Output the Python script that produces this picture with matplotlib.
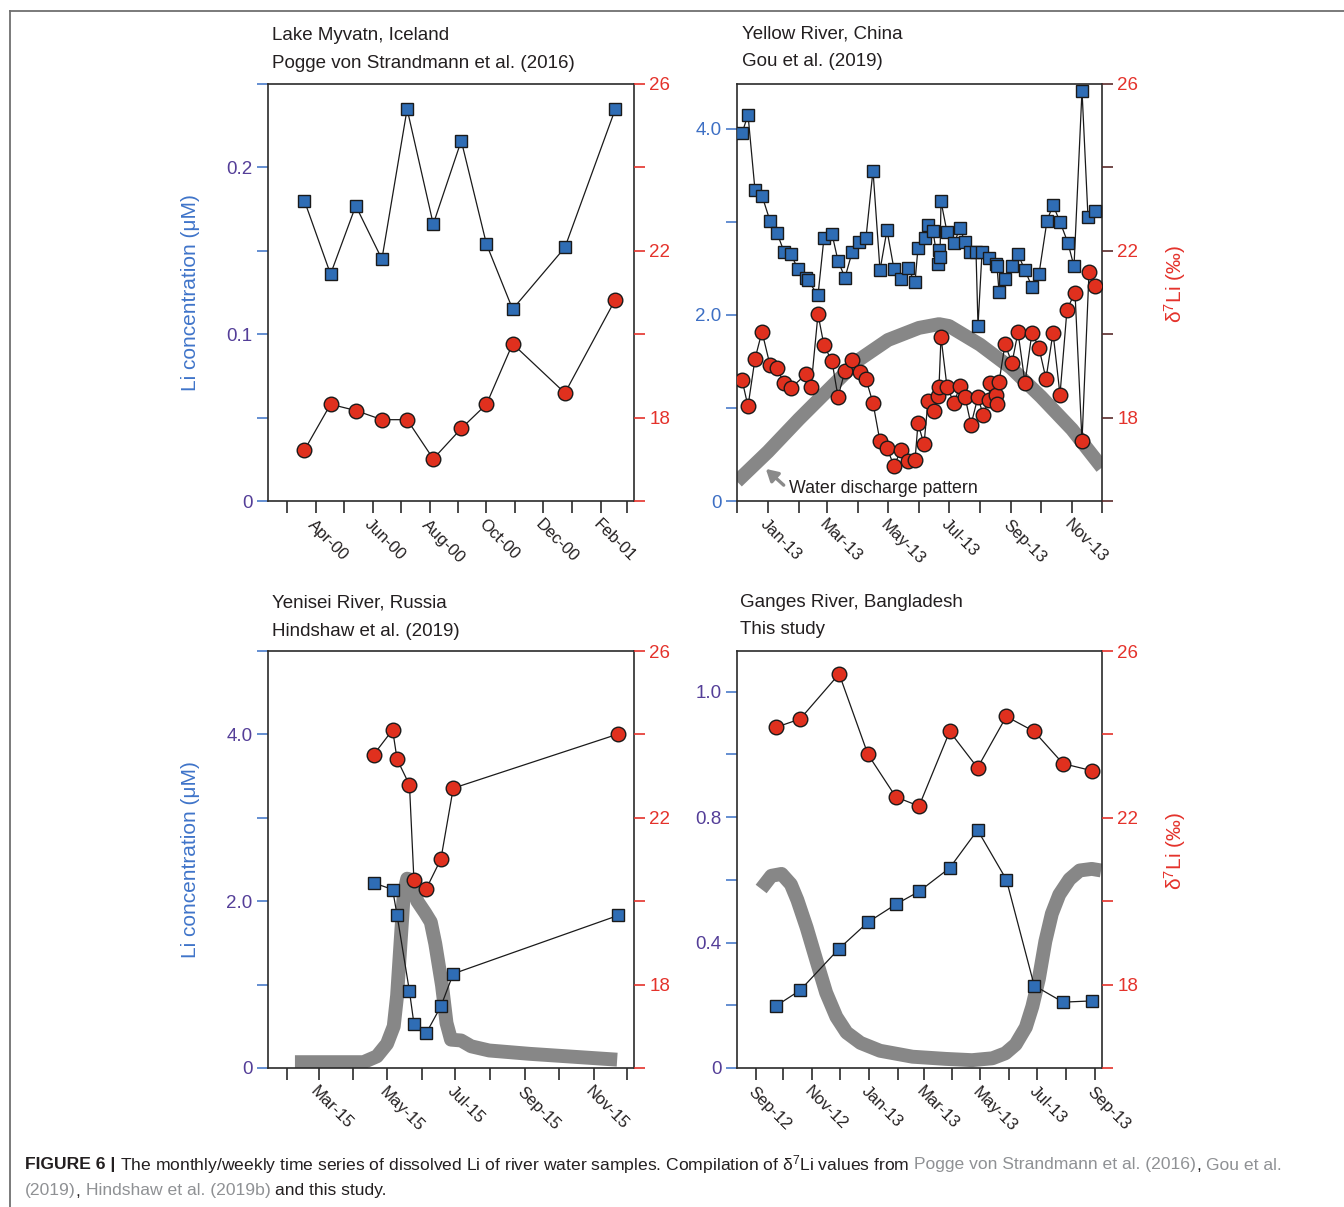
import matplotlib
matplotlib.use('Agg')
import matplotlib.pyplot as plt
import matplotlib.dates as mdates
from matplotlib.lines import Line2D
import pandas as pd

plt.rcParams['font.family'] = 'Liberation Sans'
plt.rcParams['mathtext.fontset'] = 'custom'
plt.rcParams['mathtext.rm'] = 'Liberation Sans'
plt.rcParams['mathtext.it'] = 'Liberation Sans:italic'

# ---------------- dados ----------------
# Lake Myvatn (Pogge von Strandmann et al., 2016)
myvatn_datas = ['2000-03-20', '2000-04-17', '2000-05-14', '2000-06-11', '2000-07-08', '2000-08-05',
                '2000-09-04', '2000-10-01', '2000-10-29', '2000-12-24', '2001-02-16']
myvatn_li = [0.180, 0.136, 0.177, 0.145, 0.235, 0.166, 0.216, 0.154, 0.115, 0.152, 0.235]
myvatn_d7li = [17.22, 18.32, 18.17, 17.95, 17.95, 17.01, 17.74, 18.32, 19.77, 18.59, 20.83]

# Yellow River (Gou et al., 2019) - amostragem semanal
yr_datas_li = ['2012-12-06', '2012-12-12', '2012-12-19', '2012-12-26', '2013-01-03', '2013-01-10',
               '2013-01-17', '2013-01-24', '2013-01-31', '2013-02-08', '2013-02-10', '2013-02-20',
               '2013-02-26', '2013-03-06', '2013-03-12', '2013-03-19', '2013-03-26', '2013-04-02',
               '2013-04-09', '2013-04-16', '2013-04-23', '2013-04-30', '2013-05-07', '2013-05-14',
               '2013-05-21', '2013-05-28', '2013-05-31', '2013-06-07', '2013-06-10', '2013-06-15',
               '2013-06-20', '2013-06-21', '2013-06-22', '2013-06-23', '2013-06-29', '2013-07-06',
               '2013-07-12', '2013-07-17', '2013-07-22', '2013-07-28', '2013-07-30', '2013-08-03',
               '2013-08-10', '2013-08-17', '2013-08-18', '2013-08-20', '2013-08-26', '2013-09-02',
               '2013-09-08', '2013-09-15', '2013-09-22', '2013-09-29', '2013-10-07', '2013-10-13',
               '2013-10-20', '2013-10-28', '2013-11-03', '2013-11-11', '2013-11-17', '2013-11-24']
yr_li = [3.95, 4.15, 3.34, 3.28, 3.01, 2.88, 2.68, 2.65, 2.49, 2.40, 2.37, 2.21,
         2.83, 2.87, 2.58, 2.40, 2.67, 2.78, 2.83, 3.55, 2.48, 2.91, 2.49, 2.39,
         2.50, 2.35, 2.72, 2.83, 2.96, 2.90, 2.55, 2.70, 2.62, 3.22, 2.89, 2.77,
         2.93, 2.78, 2.68, 2.68, 1.88, 2.67, 2.61, 2.55, 2.52, 2.25, 2.39, 2.52,
         2.65, 2.48, 2.30, 2.44, 3.01, 3.18, 3.00, 2.77, 2.52, 4.41, 3.05, 3.12]
yr_datas_d7 = ['2012-12-06', '2012-12-12', '2012-12-19', '2012-12-26', '2013-01-03', '2013-01-10',
               '2013-01-17', '2013-01-24', '2013-02-08', '2013-02-13', '2013-02-20', '2013-02-26',
               '2013-03-06', '2013-03-12', '2013-03-19', '2013-03-26', '2013-04-03', '2013-04-09',
               '2013-04-16', '2013-04-23', '2013-04-30', '2013-05-07', '2013-05-14', '2013-05-21',
               '2013-05-28', '2013-05-31', '2013-06-06', '2013-06-10', '2013-06-16', '2013-06-20',
               '2013-06-21', '2013-06-23', '2013-06-29', '2013-07-06', '2013-07-12', '2013-07-17',
               '2013-07-23', '2013-07-30', '2013-08-04', '2013-08-10', '2013-08-11', '2013-08-17',
               '2013-08-18', '2013-08-20', '2013-08-26', '2013-09-02', '2013-09-08', '2013-09-15',
               '2013-09-22', '2013-09-29', '2013-10-06', '2013-10-13', '2013-10-20', '2013-10-27',
               '2013-11-04', '2013-11-11', '2013-11-18', '2013-11-24']
yr_d7li = [18.91, 18.27, 19.41, 20.06, 19.26, 19.19, 18.82, 18.71, 19.04, 18.73, 20.48, 19.73,
           19.35, 18.50, 19.12, 19.39, 19.09, 18.92, 18.35, 17.43, 17.27, 16.84, 17.22, 16.95,
           16.98, 17.86, 17.36, 18.39, 18.17, 18.52, 18.74, 19.93, 18.74, 18.35, 18.76, 18.50,
           17.83, 18.50, 18.07, 18.43, 18.84, 18.55, 18.33, 18.85, 19.76, 19.31, 20.05, 18.83,
           20.04, 19.67, 18.93, 20.04, 18.55, 20.59, 21.00, 17.43, 21.48, 21.16]
# padrão de vazão (esquemático, mesma escala do eixo de Li)
yr_vazao_datas = ['2012-12-01', '2013-01-01', '2013-02-01', '2013-03-01', '2013-04-01', '2013-05-01',
                  '2013-06-01', '2013-06-21', '2013-07-01', '2013-08-01', '2013-09-01', '2013-10-01',
                  '2013-11-01', '2013-12-01']
yr_vazao = [0.21, 0.53, 0.88, 1.18, 1.51, 1.73, 1.86, 1.90, 1.88, 1.68, 1.43, 1.12, 0.77, 0.36]

# Yenisei River (Hindshaw et al., 2019)
yen_datas = ['2015-04-19', '2015-05-06', '2015-05-10', '2015-05-21', '2015-05-25', '2015-06-05',
             '2015-06-18', '2015-06-29', '2015-11-23']
yen_li = [2.22, 2.14, 1.83, 0.92, 0.53, 0.42, 0.74, 1.13, 1.83]
yen_d7li = [23.51, 24.11, 23.40, 22.79, 20.50, 20.30, 21.01, 22.71, 24.01]
yen_vazao_datas = ['2015-02-08', '2015-04-10', '2015-04-22', '2015-05-01', '2015-05-07', '2015-05-10',
                   '2015-05-13', '2015-05-16', '2015-05-19', '2015-05-24', '2015-05-28', '2015-06-04',
                   '2015-06-09', '2015-06-13', '2015-06-19', '2015-06-23', '2015-06-27', '2015-07-06',
                   '2015-07-15', '2015-07-31', '2015-09-05', '2015-11-22']
yen_vazao = [0.07, 0.07, 0.14, 0.29, 0.50, 0.87, 1.49, 2.10, 2.27, 2.25, 2.00, 1.86,
             1.75, 1.49, 0.99, 0.54, 0.34, 0.33, 0.26, 0.21, 0.17, 0.10]

# Ganges River (este estudo)
gan_datas = ['2012-09-23', '2012-10-19', '2012-11-30', '2012-12-31', '2013-01-30', '2013-02-24',
             '2013-03-29', '2013-04-28', '2013-05-29', '2013-06-28', '2013-07-29', '2013-08-29']
gan_li = [0.198, 0.248, 0.381, 0.465, 0.522, 0.563, 0.638, 0.759, 0.601, 0.263, 0.210, 0.214]
gan_d7li = [24.17, 24.37, 25.45, 23.52, 22.50, 22.28, 24.07, 23.20, 24.43, 24.07, 23.30, 23.13]
gan_vazao_datas = ['2012-09-07', '2012-09-18', '2012-09-29', '2012-10-09', '2012-10-16', '2012-10-26',
                   '2012-11-06', '2012-11-16', '2012-11-27', '2012-12-08', '2012-12-23', '2013-01-13',
                   '2013-02-17', '2013-03-25', '2013-04-22', '2013-05-14', '2013-05-28', '2013-06-08',
                   '2013-06-19', '2013-06-26', '2013-07-03', '2013-07-10', '2013-07-17', '2013-07-25',
                   '2013-08-05', '2013-08-16', '2013-08-29', '2013-09-08']
gan_vazao = [0.571, 0.613, 0.619, 0.586, 0.536, 0.448, 0.338, 0.240, 0.163, 0.113, 0.080, 0.055,
             0.036, 0.029, 0.025, 0.031, 0.047, 0.075, 0.130, 0.196, 0.284, 0.404, 0.492, 0.553,
             0.602, 0.630, 0.635, 0.630]

# eixos: limites e rótulos
d7_ticks = [16, 18, 20, 22, 24, 26]
d7_rotulos = ['', '18', '', '22', '', '26']

# cores
AZUL = '#2f6db5'
VERMELHO = '#e0301e'
TXT_VERMELHO = '#e4322b'
ROXO = '#543e98'
AZUL_TXT = '#3d6fc4'
AZUL_TICK = '#4a7cc9'
CINZA_VAZAO = '#878787'
PRETO = '#231f20'
CINZA_REF = '#8f9194'

fig = plt.figure(figsize=(13.44, 12.07), dpi=100)
W, H = 1344, 1207


def cria_painel(x0, y0, x1, y1):
    # caixa em pixels -> fração da figura
    return fig.add_axes([x0 / W, 1 - y1 / H, (x1 - x0) / W, (y1 - y0) / H])


def desenha_painel(ax, datas_li, li, datas_d7, d7, xlim, meses_rotulo, li_lim, li_ticks, li_rotulos,
                   cor_rot_esq, cor_tick_dir, titulo1, titulo2, tx, ty,
                   vazao_datas=None, vazao=None, ylabel_esq=False, ylabel_dir=False):
    ax2 = ax.twinx()
    if vazao is not None:
        ax.plot(pd.to_datetime(vazao_datas), vazao, color=CINZA_VAZAO, lw=10,
                solid_capstyle='butt', solid_joinstyle='round', zorder=1)
    ax.plot(pd.to_datetime(datas_li), li, color='#1a1a1a', lw=0.9, marker='s', ms=9,
            mfc=AZUL, mec='#1a1a1a', mew=1.0, zorder=3)
    ax2.plot(pd.to_datetime(datas_d7), d7, color='#1a1a1a', lw=0.9, marker='o', ms=10.5,
             mfc=VERMELHO, mec='#1a1a1a', mew=1.0, zorder=3)

    ax.set_xlim(pd.to_datetime(xlim[0]), pd.to_datetime(xlim[1]))
    ax.set_ylim(*li_lim)
    ax2.set_ylim(16, 26)

    ax.xaxis.set_major_locator(mdates.MonthLocator(bymonth=meses_rotulo))
    ax.xaxis.set_minor_locator(mdates.MonthLocator())
    ax.xaxis.set_major_formatter(mdates.DateFormatter('%b-%y'))
    ax.tick_params(axis='x', which='both', direction='out', length=8.5, width=1.2,
                   color='#2b2b2b', labelsize=12, labelcolor=PRETO, pad=3)
    for lb in ax.get_xticklabels():
        lb.set_rotation(-45)
        lb.set_ha('left')
        lb.set_va('top')
        lb.set_rotation_mode('anchor')

    ax.set_yticks(li_ticks)
    ax.set_yticklabels(li_rotulos)
    ax.tick_params(axis='y', direction='out', length=8, width=1.2, color=AZUL_TICK,
                   labelcolor=cor_rot_esq, labelsize=13.5, pad=3)
    ax2.set_yticks(d7_ticks)
    ax2.set_yticklabels(d7_rotulos)
    ax2.tick_params(axis='y', direction='out', length=8, width=1.2, color=cor_tick_dir,
                    labelcolor=TXT_VERMELHO, labelsize=13.5, pad=3)

    for s in ax.spines.values():
        s.set_color('#2b2b2b')
        s.set_linewidth(1.2)
    for s in ax2.spines.values():
        s.set_visible(False)

    if ylabel_esq:
        ax.set_ylabel('Li concentration (μM)', color='#3f74c9', fontsize=15)
        ax.yaxis.set_label_coords(-0.186, 0.5)
    if ylabel_dir:
        ax2.set_ylabel(r'δ$^{7}$Li (‰)', color=TXT_VERMELHO, fontsize=15, rotation=90)
        ax2.yaxis.set_label_coords(1.164, 0.52)

    fig.text(tx / W, 1 - ty / H, titulo1, fontsize=13.5, color=PRETO, va='center', ha='left')
    fig.text(tx / W, 1 - (ty + 28) / H, titulo2, fontsize=13.5, color=PRETO, va='center', ha='left')
    return ax, ax2


# Lake Myvatn
ax_a = cria_painel(268, 84, 634, 501)
desenha_painel(ax_a, myvatn_datas, myvatn_li, myvatn_datas, myvatn_d7li,
               ('2000-02-10', '2001-03-08'), (2, 4, 6, 8, 10, 12),
               (0, 0.25), [0, 0.05, 0.1, 0.15, 0.2, 0.25], ['0', '', '0.1', '', '0.2', ''],
               ROXO, TXT_VERMELHO, 'Lake Myvatn, Iceland', 'Pogge von Strandmann et al. (2016)',
               272, 36, ylabel_esq=True)

# Yellow River
ax_b = cria_painel(737, 84, 1102, 501)
desenha_painel(ax_b, yr_datas_li, yr_li, yr_datas_d7, yr_d7li,
               ('2012-12-01', '2013-12-01'), (1, 3, 5, 7, 9, 11),
               (0, 4.48), [0, 1, 2, 3, 4], ['0', '', '2.0', '', '4.0'],
               AZUL_TXT, '#5a2b2b', 'Yellow River, China', 'Gou et al. (2019)',
               742, 34, vazao_datas=yr_vazao_datas, vazao=yr_vazao, ylabel_dir=True)
ax_b.annotate('', xy=(0.079, 0.077), xytext=(0.128, 0.038), xycoords='axes fraction',
              textcoords='axes fraction',
              arrowprops=dict(arrowstyle='-|>,head_length=0.7,head_width=0.4', color='#8a8a8a',
                              lw=2.4, shrinkA=0, shrinkB=0), zorder=4)
ax_b.text(0.142, 0.030, 'Water discharge pattern', transform=ax_b.transAxes, fontsize=12.8,
          color=PRETO, ha='left', va='center', zorder=4)

# Yenisei River
ax_c = cria_painel(268, 651, 634, 1068)
desenha_painel(ax_c, yen_datas, yen_li, yen_datas, yen_d7li,
               ('2015-01-15', '2015-12-07'), (1, 3, 5, 7, 9, 11),
               (0, 5.0), [0, 1, 2, 3, 4, 5], ['0', '', '2.0', '', '4.0', ''],
               ROXO, TXT_VERMELHO, 'Yenisei River, Russia', 'Hindshaw et al. (2019)',
               272, 603, vazao_datas=yen_vazao_datas, vazao=yen_vazao, ylabel_esq=True)

# Ganges River
ax_d = cria_painel(737, 651, 1102, 1068)
desenha_painel(ax_d, gan_datas, gan_li, gan_datas, gan_d7li,
               ('2012-08-12', '2013-09-09'), (1, 3, 5, 7, 9, 11),
               (0, 1.33), [0, 0.2, 0.4, 0.6, 0.8, 1.0, 1.2], ['0', '', '0.4', '', '0.8', '', '1.0'],
               ROXO, TXT_VERMELHO, 'Ganges River, Bangladesh', 'This study',
               740, 602, vazao_datas=gan_vazao_datas, vazao=gan_vazao, ylabel_dir=True)

# moldura fina (topo e esquerda)
fig.add_artist(Line2D([9.5 / W, 1], [1 - 10.5 / H, 1 - 10.5 / H], transform=fig.transFigure,
                      color='#707070', lw=1.3))
fig.add_artist(Line2D([9.5 / W, 9.5 / W], [0, 1 - 10.5 / H], transform=fig.transFigure,
                      color='#707070', lw=1.3))

# legenda da figura, escrita em trechos com cores diferentes
render = fig.canvas.get_renderer()


def largura(txt, **kw):
    t = fig.text(0, 0, txt, **kw)
    w = t.get_window_extent(renderer=render).width
    t.remove()
    return w


TAM = 12.6
espaco = largura('a a', fontsize=TAM) - largura('aa', fontsize=TAM)


def escreve_trechos(x, y, trechos):
    for txt, cor, negrito in trechos:
        if txt.startswith(' '):
            x += espaco
        t = fig.text(x / W, 1 - y / H, txt.strip(), fontsize=TAM, color=cor, va='center', ha='left',
                     fontweight='bold' if negrito else 'normal')
        x = t.get_window_extent(renderer=render).x1
        if txt.endswith(' '):
            x += espaco


escreve_trechos(25, 1165, [
    ('FIGURE 6 |', PRETO, True),
    (' The monthly/weekly time series of dissolved Li of river water samples. '
     'Compilation of δ$^{7}$Li values from ', PRETO, False),
    ('Pogge von Strandmann et al. (2016)', CINZA_REF, False),
    (', ', PRETO, False),
    ('Gou et al.', CINZA_REF, False),
])
escreve_trechos(25, 1191, [
    ('(2019)', CINZA_REF, False),
    (', ', PRETO, False),
    ('Hindshaw et al. (2019b)', CINZA_REF, False),
    (' and this study.', PRETO, False),
])

fig.savefig('out.png', dpi=100)
